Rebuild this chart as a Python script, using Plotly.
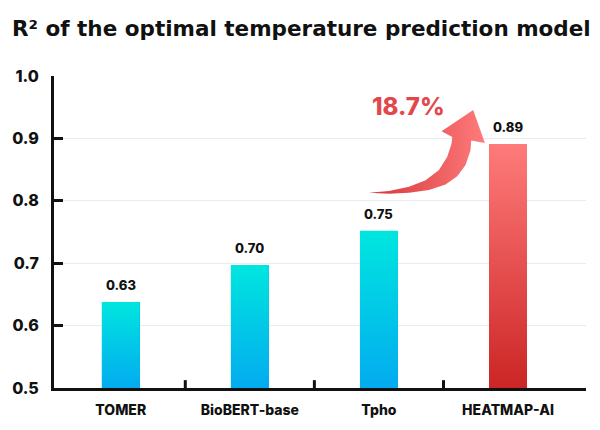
import plotly.graph_objects as go

# ---------------- data ----------------
categories = ["TOMER", "BioBERT-base", "Tpho", "HEATMAP-AI"]
r2_values = [0.638, 0.697, 0.752, 0.891]
value_labels = ["0.63", "0.70", "0.75", "0.89"]
y_tick_values = [0.5, 0.6, 0.7, 0.8, 0.9, 1.0]
y_tick_labels = ["0.5", "0.6", "0.7", "0.8", "0.9", "1.0"]
improvement_label = "18.7%"
title_text = "R² of the optimal temperature prediction model"

# ---------------- layout constants ----------------
W, H = 600, 430
M = dict(l=53, r=14, t=76, b=36)
Y_MIN, Y_MAX = 0.5, 1.0
X_RANGE = [-0.517, 3.604]
BAR_W = 0.294
FONT = "Inter"
TITLE_FONT = "DejaVu Sans"

BLUE_TOP, BLUE_BOTTOM = "#00E6DF", "#03ABEF"
RED_TOP, RED_BOTTOM = "#FF7B7B", "#CC2525"
ARROW_DARK, ARROW_LIGHT = "#D4363B", "#FF7B7B"
TEXT_RED = "#E2474C"

plot_w = W - M["l"] - M["r"]
plot_h = H - M["t"] - M["b"]


def px_to_data(px, py):
    x = X_RANGE[0] + (px - M["l"]) / plot_w * (X_RANGE[1] - X_RANGE[0])
    y = Y_MIN + (H - M["b"] - py) / plot_h * (Y_MAX - Y_MIN)
    return x, y


fig = go.Figure()
xs = list(range(len(categories)))
highlight = len(categories) - 1

# underlying bars (data)
fig.add_trace(go.Bar(
    x=xs, y=r2_values, width=BAR_W,
    marker=dict(color=[RED_BOTTOM if i == highlight else BLUE_BOTTOM for i in xs],
                line=dict(width=0)),
    hoverinfo="skip", showlegend=False,
))

# gradient overlay for each bar
for i, v in zip(xs, r2_values):
    x0, x1 = i - BAR_W / 2, i + BAR_W / 2
    top, bottom = (RED_TOP, RED_BOTTOM) if i == highlight else (BLUE_TOP, BLUE_BOTTOM)
    fig.add_trace(go.Scatter(
        x=[x0, x1, x1, x0, x0], y=[Y_MIN, Y_MIN, v, v, Y_MIN],
        mode="lines", fill="toself",
        line=dict(width=0, color="rgba(0,0,0,0)"),
        fillgradient=dict(type="vertical", colorscale=[[0, bottom], [1, top]]),
        hoverinfo="skip", showlegend=False,
    ))

# value labels
for i, v, lab in zip(xs, r2_values, value_labels):
    fig.add_annotation(x=i, y=v, text=lab, showarrow=False, yanchor="bottom",
                       yshift=7, font=dict(family=FONT, size=13, color="#111111", weight=800))

# curved arrow (decoration, pixel outline)
arrow_px = [
    (368.5, 195), (388.7, 193.3), (408.7, 189), (425.3, 182.3), (438.7, 171.7),
    (447, 158.3), (451.3, 145), (452, 138.3),
    (441.3, 132.3), (473, 110.7), (484.7, 144.3), (471, 141.7),
    (470.3, 151.7), (465.3, 166.7), (457, 178.3), (445.3, 186.7), (428.7, 192.3),
    (408.7, 195), (388.7, 196), (368.5, 195),
]
ax, ay = zip(*[px_to_data(px, py) for px, py in arrow_px])
fig.add_trace(go.Scatter(
    x=list(ax), y=list(ay), mode="lines", fill="toself",
    line=dict(width=0, color="rgba(0,0,0,0)"),
    fillgradient=dict(type="horizontal", colorscale=[[0, ARROW_DARK], [1, ARROW_LIGHT]]),
    hoverinfo="skip", showlegend=False,
))
tx, ty = px_to_data(408, 107)
fig.add_annotation(x=tx, y=ty, text=improvement_label, showarrow=False,
                   font=dict(family=FONT, size=24, color=TEXT_RED, weight=800))

# boundary ticks on x axis
tick_len = 8 / plot_h * (Y_MAX - Y_MIN)
for i in xs[:-1]:
    fig.add_shape(type="line", xref="x", yref="y", x0=i + 0.5, x1=i + 0.5,
                  y0=Y_MIN, y1=Y_MIN + tick_len, line=dict(color="#111111", width=3))

fig.update_layout(
    width=W, height=H, margin=M,
    plot_bgcolor="white", paper_bgcolor="white",
    title=dict(text=title_text, x=12 / W, xanchor="left", xref="container",
               y=1 - 28 / H, yanchor="middle",
               font=dict(family=TITLE_FONT, size=21.5, color="#111111", weight="bold")),
    xaxis=dict(range=X_RANGE, tickmode="array", tickvals=xs, ticktext=categories,
               showgrid=False, zeroline=False, showline=True, linecolor="#111111",
               linewidth=3, ticks="", ticklabelstandoff=7,
               tickfont=dict(family=FONT, size=14, color="#111111", weight=800)),
    yaxis=dict(range=[Y_MIN, Y_MAX], tickmode="array", tickvals=y_tick_values,
               ticktext=y_tick_labels, showgrid=True, gridcolor="#EBEBEB", gridwidth=1,
               zeroline=False, showline=True, linecolor="#111111", linewidth=3,
               ticks="inside", ticklen=9, tickwidth=3, tickcolor="#111111",
               ticklabelstandoff=9,
               tickfont=dict(family=FONT, size=16, color="#111111", weight=800)),
    showlegend=False, bargap=0,
)

fig.write_html("out.html", config={"displayModeBar": False},
               post_script="document.body.style.margin='0';")
